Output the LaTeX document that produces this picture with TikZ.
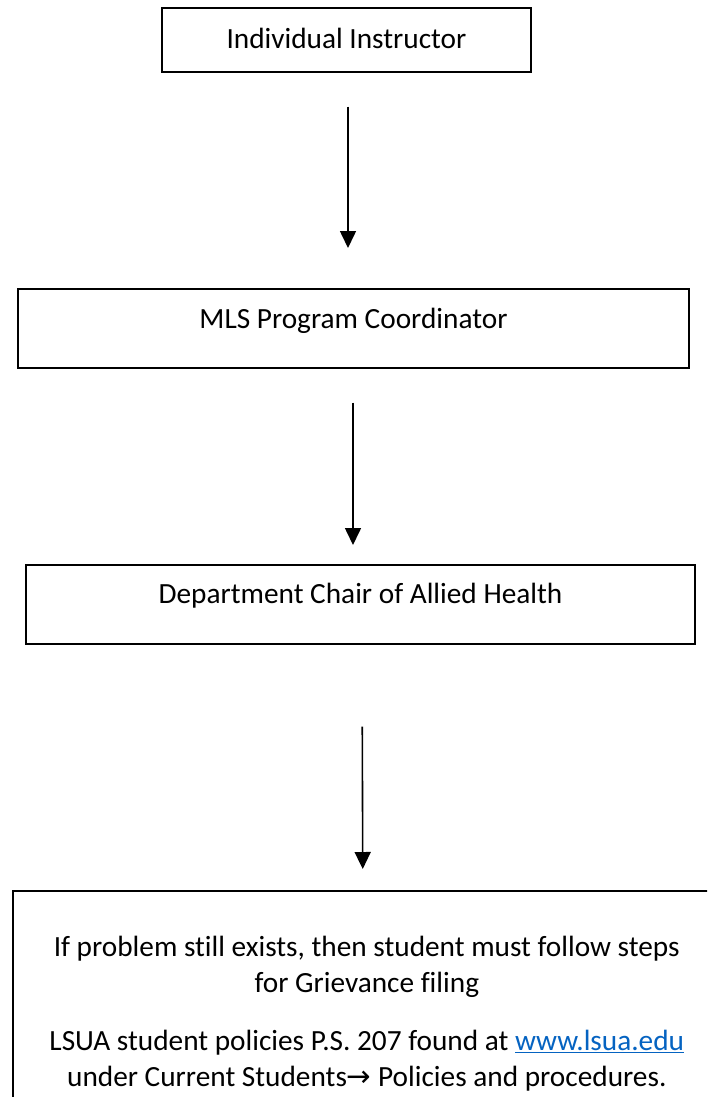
\documentclass[tikz,border=0pt]{standalone}
\usepackage{fontspec}
\setmainfont{Carlito}[Ligatures=NoCommon]
\newfontfamily\arrowfont{DejaVu Sans}
\usetikzlibrary{arrows.meta}
\definecolor{linkblue}{HTML}{0563C1}
\begin{document}
\begin{tikzpicture}[x=1pt,y=-1pt,
  box/.style={draw,line width=1.6pt,font=\fontsize{29.3}{36.5}\selectfont,inner xsep=0pt,inner ysep=9pt},
  arr/.style={line width=1.6pt,-{Triangle[width=16pt,length=17pt]}}]
\useasboundingbox (0,0) rectangle (707,1097);
\clip (0,0) rectangle (707,1097);
\node[box,anchor=north,minimum width=369pt,text height=32pt,text depth=14pt] (b1) at (346.5,7) {Individual Instructor};
\node[box,anchor=north,minimum width=671pt,text height=31pt,text depth=30pt] (b2) at (353.5,288) {MLS Program Coordinator};
\node[box,anchor=north,minimum width=669pt,text height=30pt,text depth=31pt] (b3) at (360.5,564) {Department Chair of Allied Health};
\node[box,anchor=north west,inner xsep=14pt,inner ysep=45pt] (b4) at (12,890) {\parbox[t][220pt][t]{680pt}{\centering If problem still exists, then student must follow steps\\ for Grievance filing\par\vspace{21pt}
LSUA student policies P.S. 207 found at \textcolor{linkblue}{\underline{www.lsua.edu}}\\ under Current Students{\arrowfont →} Policies and procedures.\par}};
\draw[arr,shorten <=34pt,shorten >=40pt] ([xshift=1.5pt]b1.south) -- ([xshift=-5.5pt]b2.north);
\draw[arr,shorten <=34pt,shorten >=19pt] ([xshift=-0.5pt]b2.south) -- ([xshift=-7.5pt]b3.north);
\draw[arr,shorten <=82pt,shorten >=21pt] ([xshift=1.5pt]b3.south) -- ([xshift=-4pt]b4.north);
\end{tikzpicture}
\end{document}
